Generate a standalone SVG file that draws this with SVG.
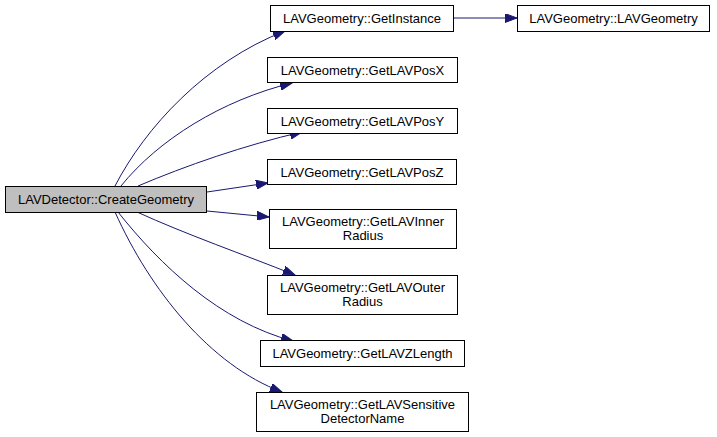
<svg xmlns="http://www.w3.org/2000/svg" width="717" height="437" viewBox="0 0 717 437">
<style>
.node rect{fill:#ffffff;stroke:#000000;stroke-width:1}
.node.main rect{fill:#bfbfbf}
.node text{font-family:"Liberation Sans",Arial,sans-serif;font-size:13px;fill:#000000;text-anchor:middle}
.edges path{fill:none;stroke:#191970;stroke-width:1;marker-end:url(#arr)}
</style>
<defs>
<marker id="arr" markerUnits="userSpaceOnUse" markerWidth="13" markerHeight="9" refX="12" refY="4.5" orient="auto">
<path d="M0,0 L12,4.5 L0,9 z" fill="#191970" stroke="#191970" stroke-width="1"/>
</marker>
</defs>
<rect width="717" height="437" fill="#ffffff"/>
<g class="edges" id="edges">
<path d="M115,186 C145,128 205,62 285,31"/>
<path d="M121,186 C158,140 222,100 292,83"/>
<path d="M138,186 C185,166 245,145 302,132"/>
<path d="M207,192 L268,183"/>
<path d="M207,211 L269,217"/>
<path d="M137,212 C185,234 245,255 295,275"/>
<path d="M118,212 C160,265 220,322 293,341"/>
<path d="M115,212 C150,290 210,365 282,392"/>
<path d="M454,18 L517,18"/>
</g>
<g class="node main" id="n_create"><rect x="5.5" y="186.5" width="201" height="26"/><text x="106" y="203.5">LAVDetector::CreateGeometry</text></g>
<g class="node" id="n_getinstance"><rect x="270.5" y="5.5" width="183" height="26"/><text x="362" y="23">LAVGeometry::GetInstance</text></g>
<g class="node" id="n_lavgeometry"><rect x="517.5" y="5.5" width="192" height="26"/><text x="613.5" y="23">LAVGeometry::LAVGeometry</text></g>
<g class="node" id="n_posx"><rect x="267.5" y="57.5" width="190" height="25"/><text x="362.5" y="74.5">LAVGeometry::GetLAVPosX</text></g>
<g class="node" id="n_posy"><rect x="267.5" y="108.5" width="190" height="25"/><text x="362.5" y="125.5">LAVGeometry::GetLAVPosY</text></g>
<g class="node" id="n_posz"><rect x="267.5" y="159.5" width="189" height="25"/><text x="362" y="176.5">LAVGeometry::GetLAVPosZ</text></g>
<g class="node" id="n_inner"><rect x="269.5" y="209.5" width="187" height="39"/><text x="363" y="226">LAVGeometry::GetLAVInner</text><text x="363" y="240">Radius</text></g>
<g class="node" id="n_outer"><rect x="267.5" y="275.5" width="190" height="39"/><text x="362.5" y="291.5">LAVGeometry::GetLAVOuter</text><text x="362.5" y="305.5">Radius</text></g>
<g class="node" id="n_zlength"><rect x="260.5" y="340.5" width="204" height="26"/><text x="362.5" y="357.5">LAVGeometry::GetLAVZLength</text></g>
<g class="node" id="n_sensitive"><rect x="256.5" y="392.5" width="212" height="39"/><text x="362.5" y="408.5">LAVGeometry::GetLAVSensitive</text><text x="362.5" y="422.5">DetectorName</text></g>
</svg>
